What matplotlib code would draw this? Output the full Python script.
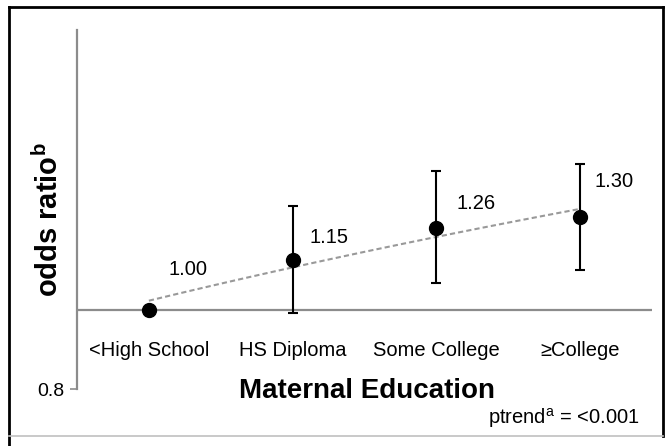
import numpy as np
import matplotlib
matplotlib.use("Agg")
import matplotlib.pyplot as plt
from matplotlib.ticker import FixedLocator, FixedFormatter, NullLocator
from matplotlib.lines import Line2D
import matplotlib.transforms as mtransforms

plt.rcParams['font.family'] = ['Liberation Sans', 'DejaVu Sans']
plt.rcParams['mathtext.fontset'] = 'custom'
plt.rcParams['mathtext.rm'] = 'Liberation Sans'
plt.rcParams['mathtext.bf'] = 'Liberation Sans:bold'
plt.rcParams['mathtext.default'] = 'regular'

# data
categories = ['<High School', 'HS Diploma', 'Some College', '\u2265College']
odds = [1.00, 1.15, 1.26, 1.30]
ci_low = [1.00, 0.99, 1.08, 1.12]
ci_high = [1.00, 1.34, 1.48, 1.51]
value_labels = ['1.00', '1.15', '1.26', '1.30']
label_offsets = [(39, 40), (36, 23), (40, 24), (34, 35)]  # pixels

fig = plt.figure(figsize=(6.69, 4.46), dpi=100)
ax = fig.add_axes([0.1151, 0.1278, 0.8595, 0.8049])

x = np.arange(len(categories))
grey = '#8c8c8c'

ax.set_yscale('log')
ax.set_ylim(0.8, 2.2)
ax.set_xlim(-0.5, 3.5)

# axis line at 1.0
ax.axhline(1.0, color=grey, lw=1.6, zorder=1)

# linear trendline
coef = np.polyfit(x, odds, 1)
xt = np.linspace(0, 3, 100)
ax.plot(xt, np.polyval(coef, xt), ls=(0, (2.5, 1.5)), color='#999999', lw=1.5, zorder=2)

# error bars
yerr = [np.array(odds) - np.array(ci_low), np.array(ci_high) - np.array(odds)]
for i in range(1, len(odds)):
    ax.errorbar(x[i], odds[i], yerr=[[yerr[0][i]], [yerr[1][i]]], fmt='none',
                ecolor='black', elinewidth=1.5, capsize=3.5, capthick=1.5, zorder=3)
ax.plot(x, odds, 'o', color='black', markersize=10, zorder=4)

for i in range(len(odds)):
    ax.annotate(value_labels[i], (x[i], odds[i]), xytext=label_offsets[i],
                textcoords='offset pixels', ha='center', va='center', fontsize=14.5)

# category labels below the 1.0 line
trans = mtransforms.blended_transform_factory(ax.transData, ax.transAxes)
for i, c in enumerate(categories):
    ax.text(x[i], 0.1086, c, transform=trans, ha='center', va='center', fontsize=14.5)

# spines / ticks
for s in ['top', 'right', 'bottom']:
    ax.spines[s].set_visible(False)
ax.spines['left'].set_color(grey)
ax.spines['left'].set_linewidth(1.6)
ax.xaxis.set_visible(False)
ax.yaxis.set_major_locator(FixedLocator([0.8]))
ax.yaxis.set_major_formatter(FixedFormatter(['0.8']))
ax.yaxis.set_minor_locator(NullLocator())
ax.tick_params(axis='y', length=5, width=1.2, color=grey, labelsize=14, pad=4)

fig.text(0.5486, 0.1233, 'Maternal Education', ha='center', va='center',
         fontsize=20, fontweight='bold')
fig.text(0.0732, 0.5067, r'odds ratio$^{\mathbf{b}}$', ha='center', va='center',
         rotation=90, fontsize=21, fontweight='bold')
fig.text(0.9567, 0.0628, r'ptrend$^{a}$ = <0.001', ha='right', va='center', fontsize=14.5)

# frame
fig.add_artist(Line2D([0.013, 0.013], [0, 0.985], transform=fig.transFigure, color='black', lw=2))
fig.add_artist(Line2D([0.013, 0.991], [0.985, 0.985], transform=fig.transFigure, color='black', lw=2))
fig.add_artist(Line2D([0.991, 0.991], [0.022, 0.985], transform=fig.transFigure, color='black', lw=2))
fig.add_artist(Line2D([0.013, 0.991], [0.022, 0.022], transform=fig.transFigure, color='#c0c0c0', lw=1.2))

fig.savefig('out.png', dpi=100)
